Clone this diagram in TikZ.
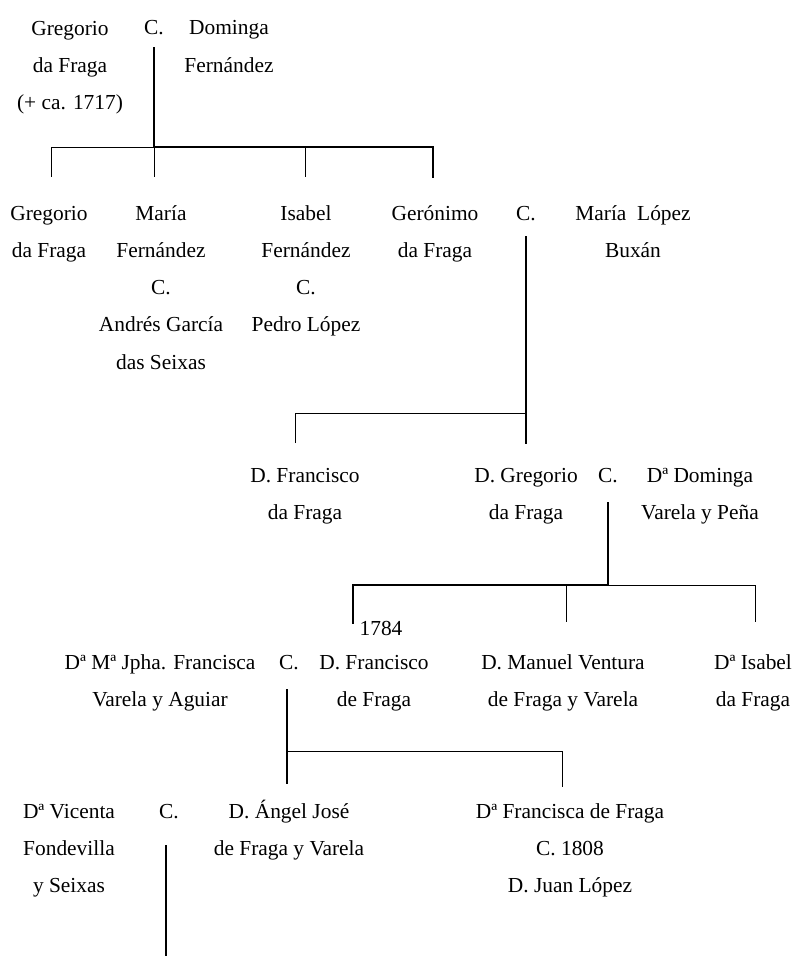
\documentclass[tikz,border=0pt]{standalone}
\usepackage{fontspec}
\setmainfont{Liberation Serif}
\begin{document}
\begin{tikzpicture}[x=1pt,y=-1pt,
  person/.style={align=center, anchor=base, inner sep=0pt,
    font=\fontsize{21.4}{37.3}\selectfont},
  thickline/.style={line width=2.6pt, line cap=rect},
  thinline/.style={line width=0.8pt}]
\useasboundingbox (0,0) rectangle (795,958);
% ---- texts (anchor = baseline of the last line) ----
\node[person] (gf)   at (70,109.6)  {Gregorio\\da Fraga\\(+ ca. 1717)};
\node[person] (c1)   at (154,35)    {C.};
\node[person] (dom)  at (229,72.3)  {Dominga\\Fernández};
\node[person] (g2)   at (49,257.3)  {Gregorio\\da Fraga};
\node[person] (maria) at (161,369.2) {María\\Fernández\\C.\\Andrés García\\das Seixas};
\node[person] (isab) at (306,331.9) {Isabel\\Fernández\\C.\\Pedro López};
\node[person] (ger)  at (435,257.3) {Gerónimo\\da Fraga};
\node[person] (c2)   at (526,220)   {C.};
\node[person] (mlb)  at (633,257.3) {María~ López\\Buxán};
\node[person] (fr3)  at (305,519.3) {D. Francisco\\da Fraga};
\node[person] (gr3)  at (526,519.3) {D. Gregorio\\da Fraga};
\node[person] (c3)   at (608,482)   {C.};
\node[person] (dd)   at (700,519.3) {Dª Dominga\\Varela y Peña};
\node[person] (y1784) at (381,635)  {1784};
\node[person] (mj)   at (160,706.3) {Dª Mª Jpha. Francisca\\Varela y Aguiar};
\node[person] (c4)   at (289,669)   {C.};
\node[person] (fr4)  at (374,706.3) {D. Francisco\\de Fraga};
\node[person] (mv)   at (563,706.3) {D. Manuel Ventura\\de Fraga y Varela};
\node[person] (is4)  at (753,706.3) {Dª Isabel\\da Fraga};
\node[person] (vic)  at (69,892.6)  {Dª Vicenta\\Fondevilla\\y Seixas};
\node[person] (c5)   at (169,818)   {C.};
\node[person] (ang)  at (289,855.3) {D. Ángel José\\de Fraga y Varela};
\node[person] (fra)  at (570,892.6) {Dª Francisca de Fraga\\C. 1808\\D. Juan López};
% ---- family 1 ----
\coordinate (m1) at (154,48);
\coordinate (j1) at (154,147);
\coordinate (h1a) at (51,147);
\coordinate (h1c) at (305,147);
\coordinate (h1d) at (433,147);
\coordinate (d1a) at (51,177);
\coordinate (d1b) at (154,177);
\coordinate (d1c) at (305,177);
\coordinate (d1d) at (433,177);
\draw[thickline] (m1) -- (j1) -- (h1d) -- (d1d);
\draw[thinline] (h1a) -- (j1) -- (d1b);
\draw[thinline] (h1a) -- (d1a);
\draw[thinline] (h1c) -- (d1c);
% ---- family 2 ----
\coordinate (m2) at (526,237);
\coordinate (j2) at (526,413);
\coordinate (h2a) at (295,413);
\coordinate (d2a) at (295,443);
\coordinate (d2b) at (526,443);
\draw[thickline] (m2) -- (d2b);
\draw[thinline] (d2a) -- (h2a) -- (j2);
% ---- family 3 ----
\coordinate (m3) at (608,503);
\coordinate (j3) at (608,585);
\coordinate (h3a) at (353,585);
\coordinate (h3b) at (566,585);
\coordinate (h3c) at (755,585);
\coordinate (d3a) at (353,623);
\coordinate (d3b) at (566,622);
\coordinate (d3c) at (755,622);
\draw[thickline] (m3) -- (j3) -- (h3a) -- (d3a);
\draw[thinline] (j3) -- (h3c) -- (d3c);
\draw[thinline] (h3b) -- (d3b);
% ---- family 4 ----
\coordinate (m4) at (287,690);
\coordinate (j4) at (287,751);
\coordinate (d4a) at (287,783);
\coordinate (h4b) at (562,751);
\coordinate (d4b) at (562,787);
\draw[thickline] (m4) -- (d4a);
\draw[thinline] (j4) -- (h4b) -- (d4b);
% ---- family 5 ----
\coordinate (m5) at (166,846);
\coordinate (d5) at (166,955);
\draw[thickline] (m5) -- (d5);
\end{tikzpicture}
\end{document}
